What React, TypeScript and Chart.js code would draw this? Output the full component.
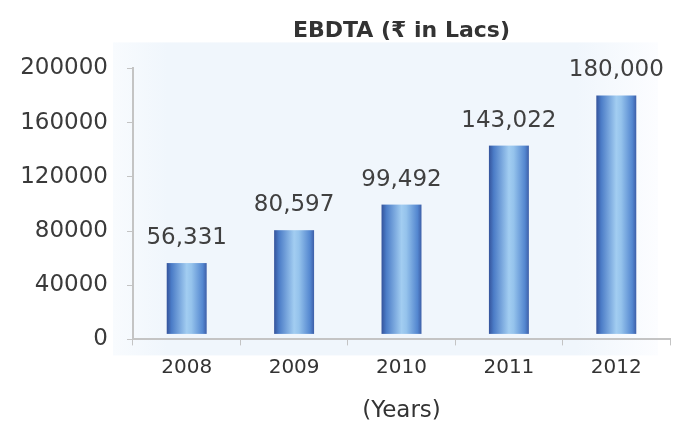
import React, { useEffect, useRef } from "react";
import { Chart, registerables } from "chart.js";

Chart.register(...registerables);

const categories = ["2008", "2009", "2010", "2011", "2012"];
const ebdta = [56331, 80597, 99492, 143022, 180000];
const yTickValues = [0, 40000, 80000, 120000, 160000, 200000];
const chartTitle = "EBDTA (₹ in Lacs)";
const xTitle = "(Years)";

const FONT = "'DejaVu Sans', 'Noto Sans', sans-serif";

const backgroundPlugin = {
  id: "plotBackground",
  beforeDraw(chart: any) {
    const { ctx, chartArea } = chart;
    if (!chartArea) return;
    const left = chartArea.left - 20;
    const right = chartArea.right - 12;
    const top = chartArea.top - 26;
    const bottom = chartArea.bottom + 16;
    const g = ctx.createLinearGradient(left, 0, right, 0);
    g.addColorStop(0, "#f8fbfe");
    g.addColorStop(0.1, "#f0f6fc");
    g.addColorStop(0.85, "#f0f6fc");
    g.addColorStop(1, "#fcfdff");
    ctx.save();
    ctx.fillStyle = g;
    ctx.fillRect(left, top, right - left, bottom - top);
    ctx.restore();
  },
};

const barPlugin = {
  id: "cylBars",
  afterDatasetsDraw(chart: any) {
    const { ctx } = chart;
    const meta = chart.getDatasetMeta(0);
    ctx.save();
    meta.data.forEach((bar: any) => {
      const x0 = bar.x - bar.width / 2;
      const x1 = bar.x + bar.width / 2;
      const top = bar.y;
      const base = bar.base - 5;
      const g = ctx.createLinearGradient(x0, 0, x1, 0);
      g.addColorStop(0, "#34539b");
      g.addColorStop(0.12, "#4b7cc7");
      g.addColorStop(0.5, "#a2cdf1");
      g.addColorStop(0.62, "#95c3ec");
      g.addColorStop(0.9, "#5487d0");
      g.addColorStop(1, "#3d5fa8");
      ctx.fillStyle = g;
      ctx.fillRect(x0, top, x1 - x0, base - top);
    });
    ctx.restore();
  },
};

const labelPlugin = {
  id: "valueLabels",
  afterDraw(chart: any) {
    const { ctx } = chart;
    const meta = chart.getDatasetMeta(0);
    const values = chart.data.datasets[0].data as number[];
    ctx.save();
    ctx.font = `23px ${FONT}`;
    ctx.fillStyle = "#404040";
    ctx.textAlign = "center";
    ctx.textBaseline = "middle";
    meta.data.forEach((bar: any, i: number) => {
      ctx.fillText(values[i].toLocaleString("en-US"), bar.x, bar.y - 25);
    });
    ctx.restore();
  },
};

export default function App() {
  const canvasRef = useRef<HTMLCanvasElement | null>(null);

  useEffect(() => {
    if (!canvasRef.current) return;
    const chart = new Chart(canvasRef.current, {
      type: "bar",
      data: {
        labels: categories,
        datasets: [
          {
            data: ebdta,
            backgroundColor: "rgba(0,0,0,0)",
            borderWidth: 0,
            barPercentage: 0.372,
            categoryPercentage: 1,
          },
        ],
      },
      options: {
        responsive: false,
        animation: false,
        layout: { padding: { left: 0, right: 5, top: 0, bottom: 0 } },
        plugins: {
          legend: { display: false },
          tooltip: { enabled: false },
          title: {
            display: true,
            text: chartTitle,
            fullSize: false,
            color: "#333333",
            font: { family: FONT, size: 22, weight: "bold" },
            padding: { top: 18, bottom: 24 },
          },
        },
        scales: {
          x: {
            grid: {
              display: true,
              drawOnChartArea: false,
              drawTicks: true,
              tickLength: 6,
              color: "#c4c4c4",
              offset: true,
            },
            border: { display: true, color: "#c4c4c4", width: 2 },
            ticks: {
              color: "#333333",
              font: { family: FONT, size: 20 },
              padding: 10,
            },
            title: {
              display: true,
              text: xTitle,
              color: "#333333",
              font: { family: FONT, size: 23 },
              padding: { top: 8, bottom: 0 },
            },
          },
          y: {
            min: 0,
            max: 200000,
            afterFit(scale: any) {
              scale.width = 133;
            },
            afterBuildTicks(scale: any) {
              scale.ticks = yTickValues.map((v) => ({ value: v }));
            },
            grid: {
              display: true,
              drawOnChartArea: false,
              drawTicks: true,
              tickLength: 6,
              color: "#c4c4c4",
            },
            border: { display: true, color: "#c4c4c4", width: 2 },
            ticks: {
              color: "#3a3a3a",
              font: { family: FONT, size: 23 },
              padding: 19,
              callback: (v: any) => String(v),
            },
          },
        },
      },
      plugins: [backgroundPlugin, barPlugin, labelPlugin],
    });
    return () => chart.destroy();
  }, []);

  return (
    <div style={{ position: "absolute", left: 0, top: 0, width: 675, height: 425, background: "#ffffff" }}>
      <canvas ref={canvasRef} width={675} height={425} style={{ display: "block" }} />
    </div>
  );
}
